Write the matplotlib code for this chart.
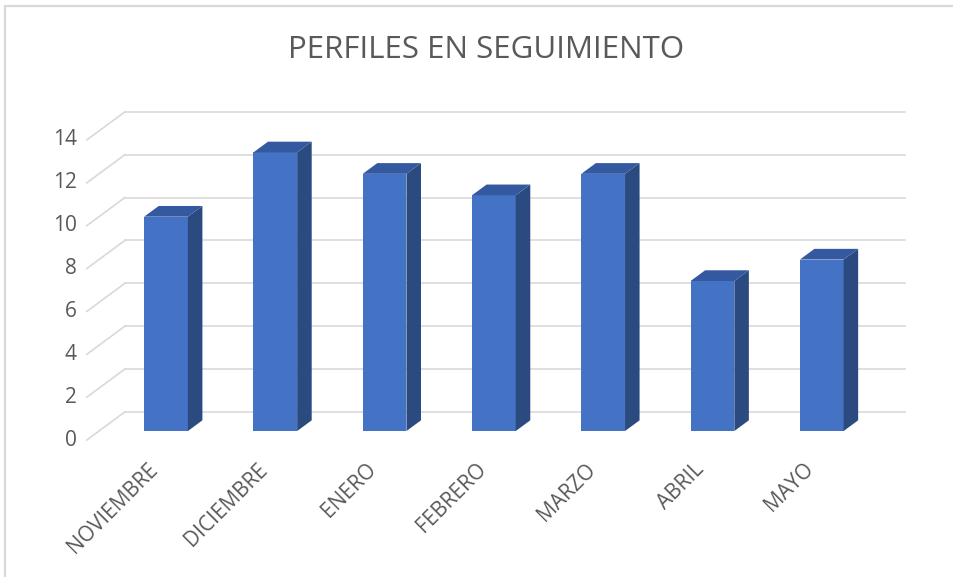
import matplotlib.pyplot as plt
from matplotlib.patches import Polygon, Rectangle

plt.rcParams['font.family'] = ['Open Sans', 'DejaVu Sans']

meses = ['NOVIEMBRE', 'DICIEMBRE', 'ENERO', 'FEBRERO', 'MARZO', 'ABRIL', 'MAYO']
perfiles = [10, 13, 12, 11, 12, 7, 8]
ticks = [0, 2, 4, 6, 8, 10, 12, 14]

FRONT = '#4472C4'
SIDE = '#2B4A80'
TOP = '#3459A0'
GRID = '#D9D9D9'
TEXT = '#595959'

fig = plt.figure(figsize=(9.54, 5.77), dpi=100)
ax = fig.add_axes([0, 0, 1, 1])
# pixel mapping: category spacing ~109.3 px, 1 unit ~21.43 px
ax.set_xlim(-1.519, 7.21)
ax.set_ylim(-6.81, 20.11)
ax.axis('off')

# pseudo 3D geometry (data units)
w = 0.40            # bar width
ddx, ddy = 0.133, 0.50   # bar depth offset
by = 0.89                # back wall offset from bar front plane
fy = -0.42               # front floor edge offset
x_left = -0.725          # front-left of the floor (at front edge)
x_right = 6.76           # back wall right end

# walls: gridlines on back wall + diagonals on the floor side
for t in ticks:
    ax.plot([x_left + 0.348, x_right], [t + by, t + by], color=GRID, lw=1.2, zorder=1)
    ax.plot([x_left, x_left + 0.348], [t + fy, t + by], color=GRID, lw=1.2, zorder=1)
    ax.text(x_left - 0.09, t + fy, str(t), ha='right', va='center',
            fontsize=15, color=TEXT)

# bars
for i, v in enumerate(perfiles):
    x0, x1 = i - w / 2, i + w / 2
    ax.bar(i, v, width=w, color=FRONT, zorder=3)
    side = Polygon([(x1, 0), (x1 + ddx, ddy), (x1 + ddx, v + ddy), (x1, v)],
                   closed=True, facecolor=SIDE, edgecolor='none', zorder=3)
    top = Polygon([(x0, v), (x0 + ddx, v + ddy), (x1 + ddx, v + ddy), (x1, v)],
                  closed=True, facecolor=TOP, edgecolor='none', zorder=3)
    ax.add_patch(side)
    ax.add_patch(top)
    ax.text(i - 0.17, -1.3, meses[i], rotation=45, rotation_mode='anchor',
            ha='right', va='top', fontsize=15, color=TEXT)

fig.text(486 / 954, 1 - 50 / 577, 'PERFILES EN SEGUIMIENTO', ha='center', va='center',
         fontsize=22.5, color=TEXT)

# chart frame (only top and left visible)
fig.add_artist(Rectangle((5 / 954, -0.1), 1.2, 1 - 6 / 577 + 0.1, transform=fig.transFigure,
                         facecolor='none', edgecolor=GRID, lw=1.6))

fig.savefig('out.png', dpi=100)
